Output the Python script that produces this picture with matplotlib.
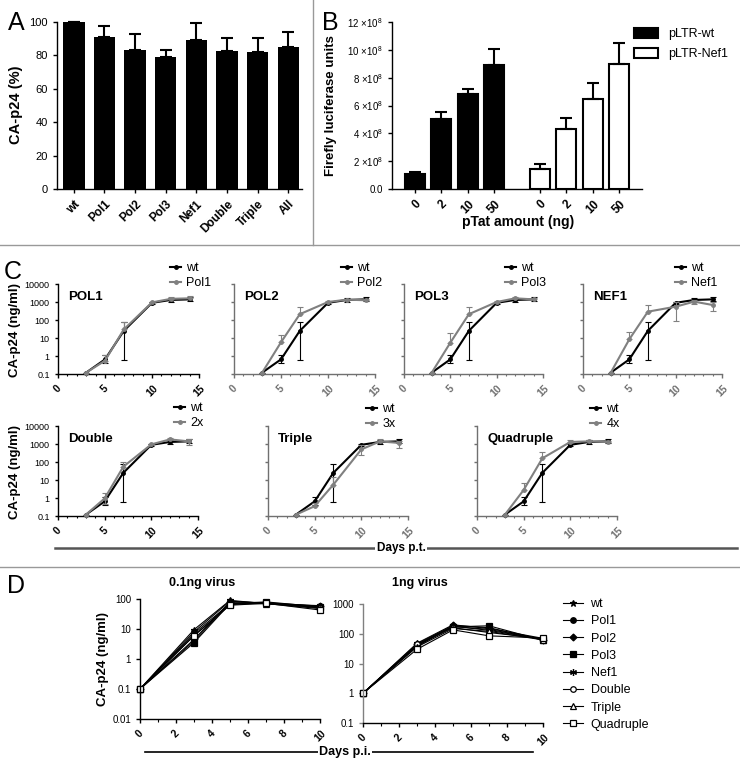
import numpy as np
import matplotlib
matplotlib.use('Agg')
import matplotlib.pyplot as plt
from matplotlib.lines import Line2D
from matplotlib.patches import Patch

plt.rcParams['font.family'] = ['Liberation Sans', 'DejaVu Sans']
plt.rcParams['mathtext.fontset'] = 'custom'
plt.rcParams['mathtext.rm'] = 'Liberation Sans'

# ---- panel A data
a_labels = ['wt', 'Pol1', 'Pol2', 'Pol3', 'Nef1', 'Double', 'Triple', 'All']
a_values = [100, 91, 83.5, 79.3, 89.2, 82.7, 82.1, 85.1]
a_err = [0, 6.6, 9.3, 4.2, 10.0, 7.7, 8.3, 9.1]

# ---- panel B data (x10^8)
b_doses = ['0', '2', '10', '50']
b_wt = [1.1, 5.0, 6.8, 8.9]
b_wt_err = [0.12, 0.56, 0.42, 1.13]
b_nef = [1.44, 4.32, 6.47, 9.0]
b_nef_err = [0.36, 0.76, 1.13, 1.5]
b_yticks = [0, 2, 4, 6, 8, 10, 12]

# ---- panel C data
c_days = [3, 5, 7, 10, 12, 14]
c_wt = [0.12, 0.65, 25, 900, 1300, 1400]
c_wt_hi = [0, 0.5, 50, 150, 400, 400]
c_wt_lo = [0, 0.25, 24.4, 100, 300, 300]

c_pol1 = [0.12, 0.55, 30, 950, 1500, 1600]
c_pol1_hi = [0, 0.6, 50, 100, 500, 500]
c_pol2 = [0.12, 5.8, 210, 1000, 1350, 1250]
c_pol2_hi = [0, 9, 290, 100, 200, 200]
c_pol3 = [0.12, 5.5, 210, 1000, 1600, 1400]
c_pol3_hi = [0, 13, 290, 100, 400, 200]
c_nef1 = [0.12, 8.5, 290, 550, 1050, 680]
c_nef1_hi = [0, 12, 400, 460, 300, 350]
c_nef1_lo = [0, 0, 0, 460, 250, 350]
c_2x = [0.12, 0.95, 55, 950, 1800, 1400]
c_2x_hi = [0, 0.9, 45, 100, 400, 500]
c_2x_lo = [0, 0.5, 0, 0, 0, 500]
c_3x = [0.12, 0.35, 5.5, 500, 1400, 1150]
c_3x_hi = [0, 0.2, 10, 400, 400, 300]
c_3x_lo = [0, 0, 0, 250, 0, 550]
c_4x = [0.12, 2.8, 160, 1300, 1400, 1350]
c_4x_hi = [0, 4.2, 210, 400, 200, 100]
c_zero = [0, 0, 0, 0, 0, 0]

# ---- panel D data
d_days = [0, 3, 5, 7, 10]
d_names = ['wt', 'Pol1', 'Pol2', 'Pol3', 'Nef1', 'Double', 'Triple', 'Quadruple']
d_low = [
    [0.1, 9.5, 90, 70, 55],
    [0.1, 4.0, 75, 70, 60],
    [0.1, 4.5, 80, 75, 58],
    [0.1, 3.5, 70, 80, 55],
    [0.1, 8.0, 85, 72, 52],
    [0.1, 6.0, 65, 75, 50],
    [0.1, 7.0, 70, 70, 48],
    [0.1, 6.0, 62, 72, 43],
]
d_high = [
    [1, 48, 200, 150, 70],
    [1, 42, 180, 130, 65],
    [1, 45, 190, 160, 62],
    [1, 40, 170, 185, 60],
    [1, 38, 175, 140, 65],
    [1, 44, 160, 110, 68],
    [1, 36, 150, 120, 62],
    [1, 30, 135, 85, 72],
]
d_markers = ['*', 'o', 'D', 's', (6, 2, 0), 'o', '^', 's']
d_faces = ['black', 'black', 'black', 'black', 'black', 'white', 'white', 'white']
d_sizes = [5, 4, 3.5, 4, 5, 4, 4, 4.5]

W, H = 740, 770
GRAY = '#808080'
fig = plt.figure(figsize=(W / 100, H / 100), dpi=100)


def px_ax(l, t, r, b):
    return fig.add_axes([l / W, 1 - b / H, (r - l) / W, (b - t) / H])


def ftxt(x, y, s, **kw):
    return fig.text(x / W, 1 - y / H, s, **kw)


def fline(x0, y0, x1, y1, **kw):
    fig.add_artist(Line2D([x0 / W, x1 / W], [1 - y0 / H, 1 - y1 / H],
                          transform=fig.transFigure, **kw))


def style(ax, color='black'):
    for s in ['top', 'right']:
        ax.spines[s].set_visible(False)
    for s in ['left', 'bottom']:
        ax.spines[s].set_color(color)
        ax.spines[s].set_linewidth(1)
    ax.tick_params(direction='out', length=3, width=1, color=color)


# separators
fline(313, 0, 313, 245, color='#999999', lw=1)
fline(0, 245, 740, 245, color='#999999', lw=1)
fline(0, 567, 740, 567, color='#999999', lw=1)

# ================= A
axA = px_ax(57, 22, 302, 189)
xa = np.arange(len(a_labels))
axA.bar(xa, a_values, width=0.7, color='black', clip_on=False)
axA.errorbar(xa, a_values, yerr=[np.zeros(len(xa)), a_err], fmt='none', ecolor='black',
             elinewidth=1.5, capsize=4, capthick=1.5, clip_on=False)
axA.set_xlim(-0.55, 7.45)
axA.set_ylim(0, 100)
axA.set_yticks(range(0, 101, 20))
axA.set_xticks(xa)
axA.set_xticklabels(a_labels, rotation=45, ha='right', rotation_mode='anchor',
                    fontweight='bold', fontsize=8.5)
axA.tick_params(axis='y', labelsize=8)
style(axA)
ftxt(16, 105, 'CA-p24 (%)', rotation=90, fontweight='bold', fontsize=10.5, ha='center', va='center')
ftxt(8, 30, 'A', fontsize=18)

# ================= B
axB = px_ax(392, 22, 642, 189)
xb_wt = np.arange(4)
xb_nef = np.arange(4) + 4.7
axB.bar(xb_wt, b_wt, width=0.75, color='black', edgecolor='black', lw=1.5, label='pLTR-wt')
axB.bar(xb_nef, b_nef, width=0.75, color='white', edgecolor='black', lw=1.5, label='pLTR-Nef1')
axB.errorbar(xb_wt, b_wt, yerr=[np.zeros(4), b_wt_err], fmt='none', ecolor='black',
             elinewidth=1.5, capsize=4, capthick=1.5)
axB.errorbar(xb_nef, b_nef, yerr=[np.zeros(4), b_nef_err], fmt='none', ecolor='black',
             elinewidth=1.5, capsize=4, capthick=1.5)
axB.set_xlim(-0.85, 8.55)
axB.set_ylim(0, 12)
axB.set_yticks(b_yticks)
axB.set_yticklabels(['0.0'] + [r'%d $\times$10$^{8}$' % v for v in b_yticks[1:]], fontsize=7)
axB.set_xticks(np.concatenate([xb_wt, xb_nef]))
axB.set_xticklabels(b_doses * 2, rotation=45, ha='right', rotation_mode='anchor',
                    fontweight='bold', fontsize=8.5)
style(axB)
ftxt(331, 106, 'Firefly luciferase units', rotation=90, fontweight='bold', fontsize=9.5,
     ha='center', va='center')
ftxt(518, 222, 'pTat amount (ng)', fontweight='bold', fontsize=10, ha='center', va='center')
ftxt(322, 30, 'B', fontsize=18)
axB.legend(handles=[Patch(facecolor='black', edgecolor='black', lw=1.5, label='pLTR-wt'),
                    Patch(facecolor='white', edgecolor='black', lw=1.5, label='pLTR-Nef1')],
           loc='upper left', bbox_to_anchor=(634 / W, 1 - 28 / H), bbox_transform=fig.transFigure,
           frameon=False, fontsize=9, handlelength=1.9, handleheight=0.9, handletextpad=0.8,
           labelspacing=0.6, borderpad=0, borderaxespad=0)

# ================= C
c_panels = [
    ((58, 284, 199, 374), 'POL1', 'Pol1', c_pol1, c_pol1_hi, c_zero, (170, 262), True),
    ((234, 284, 375, 374), 'POL2', 'Pol2', c_pol2, c_pol2_hi, c_zero, (341, 262), False),
    ((404, 284, 543, 374), 'POL3', 'Pol3', c_pol3, c_pol3_hi, c_zero, (505, 262), False),
    ((583, 284, 722, 374), 'NEF1', 'Nef1', c_nef1, c_nef1_hi, c_nef1_lo, (675, 262), False),
    ((58, 426, 198, 516), 'Double', '2x', c_2x, c_2x_hi, c_2x_lo, (174, 402), True),
    ((268, 426, 408, 516), 'Triple', '3x', c_3x, c_3x_hi, c_3x_lo, (366, 403), False),
    ((477, 426, 617, 516), 'Quadruple', '4x', c_4x, c_4x_hi, c_zero, (590, 403), False),
]
for box, title, mlabel, mvals, mhi, mlo, legxy, first in c_panels:
    ax = px_ax(*box)
    col = 'black' if first else '#707070'
    ax.errorbar(c_days, c_wt, yerr=[c_wt_lo, c_wt_hi], color='black', lw=1.5, marker='o', ms=2.5,
                elinewidth=0.8, capsize=2, capthick=0.8, clip_on=False, zorder=3)
    ax.errorbar(c_days, mvals, yerr=[mlo, mhi], color=GRAY, lw=1.5, marker='o', ms=2.5,
                elinewidth=0.8, capsize=2, capthick=0.8, clip_on=False, zorder=4)
    ax.set_yscale('log')
    ax.set_ylim(0.1, 10000)
    ax.set_xlim(0, 15)
    ax.set_yticks([0.1, 1, 10, 100, 1000, 10000])
    ax.minorticks_off()
    ax.set_xticks([0, 5, 10, 15])
    ax.set_xticks(range(16), minor=True)
    ax.set_xticklabels(['0', '5', '10', '15'], rotation=45, ha='center', fontweight='bold',
                       fontsize=7.5, color=col)
    if first:
        ax.set_yticklabels(['0.1', '1', '10', '100', '1000', '10000'], fontsize=6.5)
    else:
        ax.set_yticklabels([])
    style(ax, col)
    ax.tick_params(axis='x', which='minor', length=1.5, width=0.8, color=col)
    ax.tick_params(axis='y', length=2.5)
    ax.text(10 / (box[2] - box[0]), 1 - 13 / 90, title, transform=ax.transAxes,
            fontweight='bold', fontsize=9.5, va='center', ha='left')
    ax.legend(handles=[Line2D([], [], color='black', lw=1.5, marker='o', ms=2.5, label='wt'),
                       Line2D([], [], color=GRAY, lw=1.5, marker='o', ms=2.5, label=mlabel)],
              loc='upper left', bbox_to_anchor=(legxy[0] / W, 1 - legxy[1] / H),
              bbox_transform=fig.transFigure, frameon=False, fontsize=9, handlelength=0.9,
              handletextpad=0.4, labelspacing=0.25, borderpad=0, borderaxespad=0)

ftxt(15, 330, 'CA-p24 (ng/ml)', rotation=90, fontweight='bold', fontsize=9.5, ha='center', va='center')
ftxt(15, 472, 'CA-p24 (ng/ml)', rotation=90, fontweight='bold', fontsize=9.5, ha='center', va='center')
ftxt(4, 279, 'C', fontsize=18)
fline(55, 548, 737, 548, color='#555555', lw=1.8)
ftxt(401, 548, 'Days p.t.', fontweight='bold', fontsize=8.5, ha='center', va='center',
     bbox=dict(facecolor='white', edgecolor='none', pad=1))

# ================= D
ftxt(7, 593, 'D', fontsize=18)
for box, vals, ylim, yt, ttl, tx, col in [
        ((140, 599, 320, 719), d_low, (0.01, 100), [0.01, 0.1, 1, 10, 100], '0.1ng virus', 202, 'black'),
        ((363, 604, 543, 723), d_high, (0.1, 1000), [0.1, 1, 10, 100, 1000], '1ng virus', 420, GRAY)]:
    ax = px_ax(*box)
    for name, v, m, fc, ms in zip(d_names, vals, d_markers, d_faces, d_sizes):
        ax.plot(d_days, v, color='black', lw=0.8, marker=m, ms=ms, mfc=fc, mec='black', mew=0.9,
                clip_on=False, label=name)
    ax.set_yscale('log')
    ax.set_ylim(*ylim)
    ax.set_yticks(yt)
    ax.minorticks_off()
    ax.set_yticklabels([('%g' % t) for t in yt], fontsize=7)
    ax.set_xlim(0, 10)
    ax.set_xticks(range(0, 11, 2))
    ax.set_xticks(range(1, 10, 2), minor=True)
    ax.set_xticklabels([str(t) for t in range(0, 11, 2)], rotation=45, ha='center',
                       fontweight='bold', fontsize=7.5)
    style(ax)
    ax.spines['left'].set_color(col)
    ax.tick_params(axis='y', color=col)
    ax.tick_params(axis='x', which='minor', length=2, width=0.8)
    ftxt(tx, 583, ttl, fontweight='bold', fontsize=9, ha='center', va='center')
    axD = ax

ftxt(103, 659, 'CA-p24 (ng/ml)', rotation=90, fontweight='bold', fontsize=9.5, ha='center', va='center')
fline(145, 752, 533, 752, color='black', lw=1.2)
ftxt(345, 752, 'Days p.i.', fontweight='bold', fontsize=9, ha='center', va='center',
     bbox=dict(facecolor='white', edgecolor='none', pad=1))
h, l = axD.get_legend_handles_labels()
fig.legend(h, l, loc='upper left', bbox_to_anchor=(563 / W, 1 - 598 / H), frameon=False,
           fontsize=9, handlelength=1.6, handletextpad=0.6, labelspacing=0.42, borderpad=0,
           borderaxespad=0)

fig.savefig('out.png', dpi=100)
